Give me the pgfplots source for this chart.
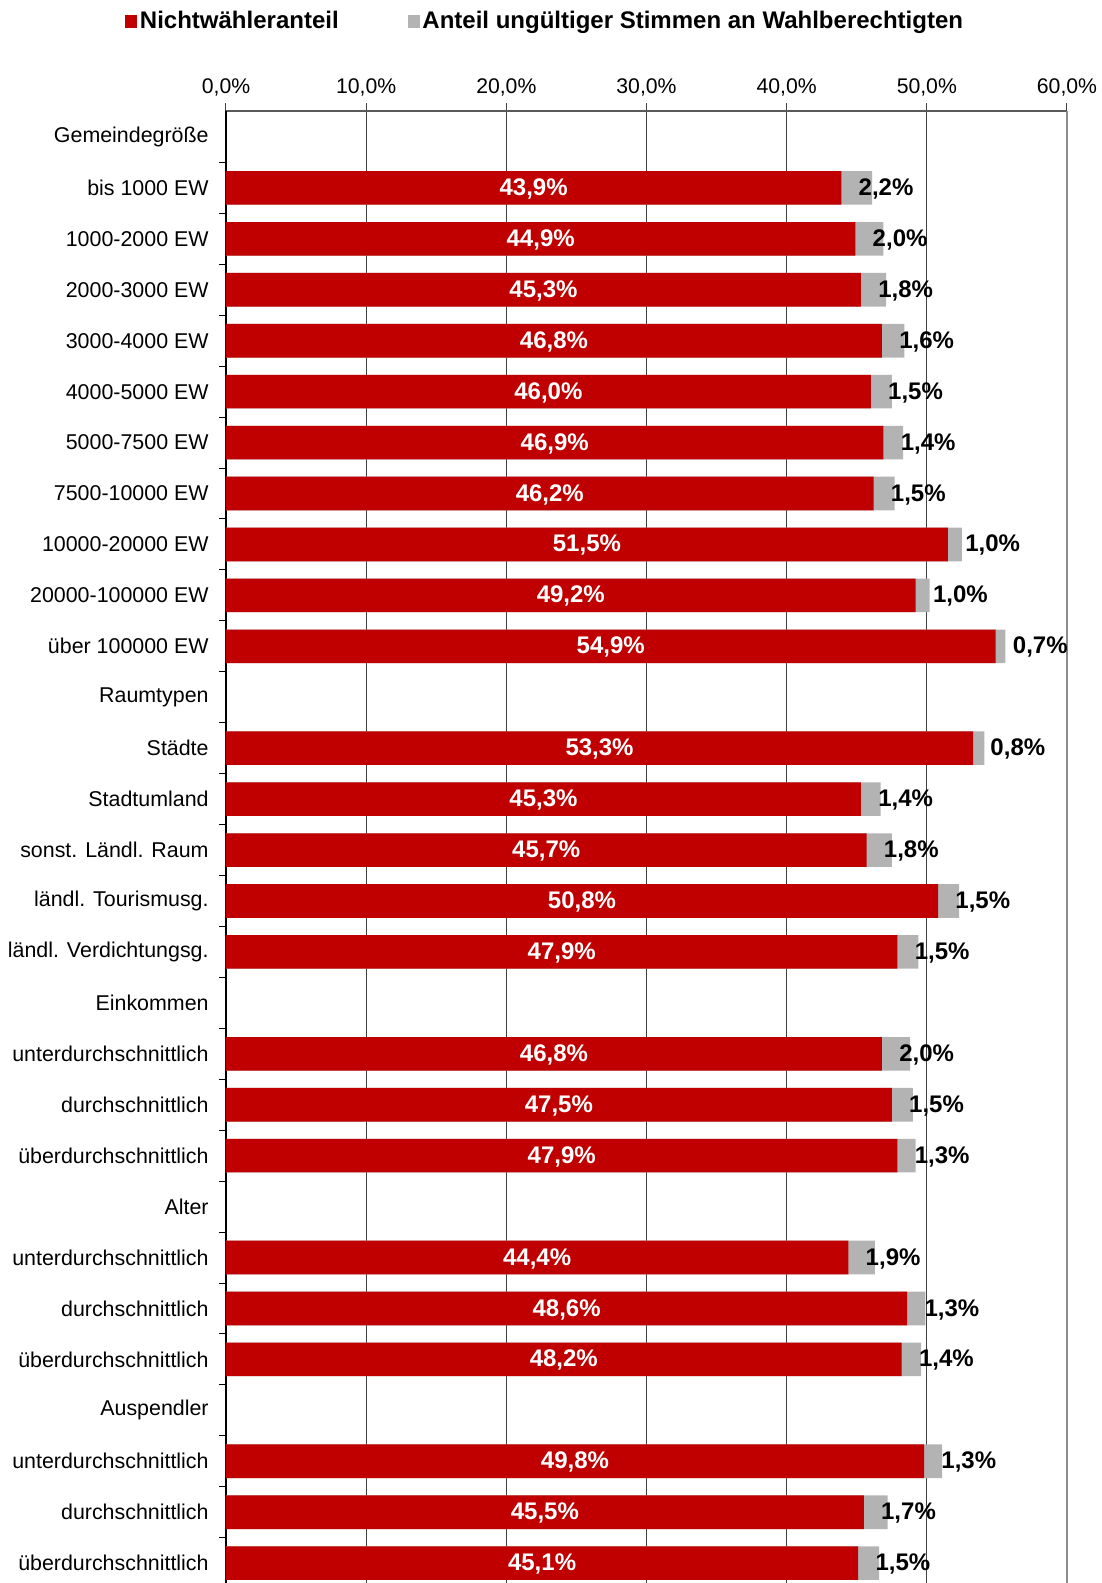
\documentclass[border=0pt]{standalone}
\usepackage{fontspec}
\setmainfont{Liberation Sans}
\usepackage{pgfplots}
\pgfplotsset{compat=1.18}
\usepackage{pgfplotstable}
\definecolor{nwred}{HTML}{C00000}
\definecolor{ugray}{HTML}{B3B3B3}

\pgfplotstableread{
y a b
1 43.9 2.2
2 44.9 2.0
3 45.3 1.8
4 46.8 1.6
5 46.0 1.5
6 46.9 1.4
7 46.2 1.5
8 51.5 1.0
9 49.2 1.0
10 54.9 0.7
12 53.3 0.8
13 45.3 1.4
14 45.7 1.8
15 50.8 1.5
16 47.9 1.5
18 46.8 2.0
19 47.5 1.5
20 47.9 1.3
22 44.4 1.9
23 48.6 1.3
24 48.2 1.4
26 49.8 1.3
27 45.5 1.7
28 45.1 1.5
}\data

\begin{document}
\begin{tikzpicture}
\begin{axis}[name=ax, scale only axis, width=420.5pt, height=736pt,
  xmin=0, xmax=60, ymin=-0.51, ymax=28.39, y dir=reverse,
  clip=false,
  axis x line=top, axis y line=left, axis line style={-},
  x axis line style={line width=1.3pt, black!65},
  y axis line style={line width=0.6pt, black},
  tick align=outside,
  xtick={0,10,20,30,40,50},
  extra x ticks={60},
  extra x tick style={grid style={line width=1.1pt, black!45}},
  xmajorgrids, grid style={line width=0.55pt, black!75},
  major x tick style={line width=0.5pt, black!75},
  major tick length=4pt,
  /pgf/number format/.cd, fixed, fixed zerofill, precision=1, use comma, assume math mode=true,
  /pgfplots/.cd,
  xticklabel={\pgfmathprintnumber{\tick}\%},
  xticklabel style={font=\fontsize{10.6}{12}\selectfont, inner sep=0pt, anchor=south, yshift=3pt},
  ytick={0,...,28},
  yticklabels={Gemeindegröße, bis 1000 EW, 1000-2000 EW, 2000-3000 EW, 3000-4000 EW, 4000-5000 EW, 5000-7500 EW, 7500-10000 EW, 10000-20000 EW, 20000-100000 EW, über 100000 EW, Raumtypen, Städte, Stadtumland, sonst. Ländl. Raum, ländl. Tourismusg., ländl. Verdichtungsg., Einkommen, unterdurchschnittlich, durchschnittlich, überdurchschnittlich, Alter, unterdurchschnittlich, durchschnittlich, überdurchschnittlich, Auspendler, unterdurchschnittlich, durchschnittlich, überdurchschnittlich},
  major y tick style={draw=none},
  minor ytick={0.5,1.5,...,27.5},
  minor y tick style={line width=0.5pt, black},
  minor tick length=3.5pt,
  yticklabel style={font=\fontsize{10.7}{12}\selectfont, inner sep=0pt, anchor=east, xshift=-4.5pt},
  legend style={at={(0.380,1.061)}, anchor=center, draw=none, fill=none, legend columns=2,
    font=\bfseries\fontsize{12}{14}\selectfont, inner sep=0pt,
    /tikz/every even column/.append style={column sep=33pt},
    nodes={inner sep=1.5pt}},
  legend cell align=left,
]
\addlegendimage{legend image code/.code={\fill[nwred] (0pt,-3pt) rectangle (5.5pt,3pt);}}
\addlegendentry{Nichtwähleranteil}
\addlegendimage{legend image code/.code={\fill[ugray] (0pt,-3pt) rectangle (5.5pt,3pt);}}
\addlegendentry{Anteil ungültiger Stimmen an Wahlberechtigten}

\addplot[xbar, bar width=16.8pt, bar shift=0pt, fill=ugray, draw=none, forget plot]
  table[x expr=\thisrow{a}+\thisrow{b}, y=y] {\data};
\addplot[xbar, bar width=16.8pt, bar shift=0pt, fill=nwred, draw=none, forget plot]
  table[x=a, y=y] {\data};

\addplot[only marks, mark=none, forget plot, point meta=explicit,
  nodes near coords={\pgfmathprintnumber{\pgfplotspointmeta}\%},
  every node near coord/.append style={anchor=center, inner sep=0pt, yshift=-0.5pt, text=white,
    font=\bfseries\fontsize{12}{14}\selectfont}]
  table[x expr=\thisrow{a}/2, y=y, meta=a] {\data};
\addplot[only marks, mark=none, forget plot, point meta=explicit,
  nodes near coords={\pgfmathprintnumber{\pgfplotspointmeta}\%},
  every node near coord/.append style={anchor=west, inner sep=0pt, xshift=8.5pt, yshift=-0.5pt, text=black,
    font=\bfseries\fontsize{12}{14}\selectfont}]
  table[x=a, y=y, meta=b] {\data};
\end{axis}
\pgfresetboundingbox
\useasboundingbox ([xshift=-113pt]ax.south west) rectangle ([xshift=17.5pt,yshift=55.5pt]ax.north east);
\end{tikzpicture}
\end{document}
